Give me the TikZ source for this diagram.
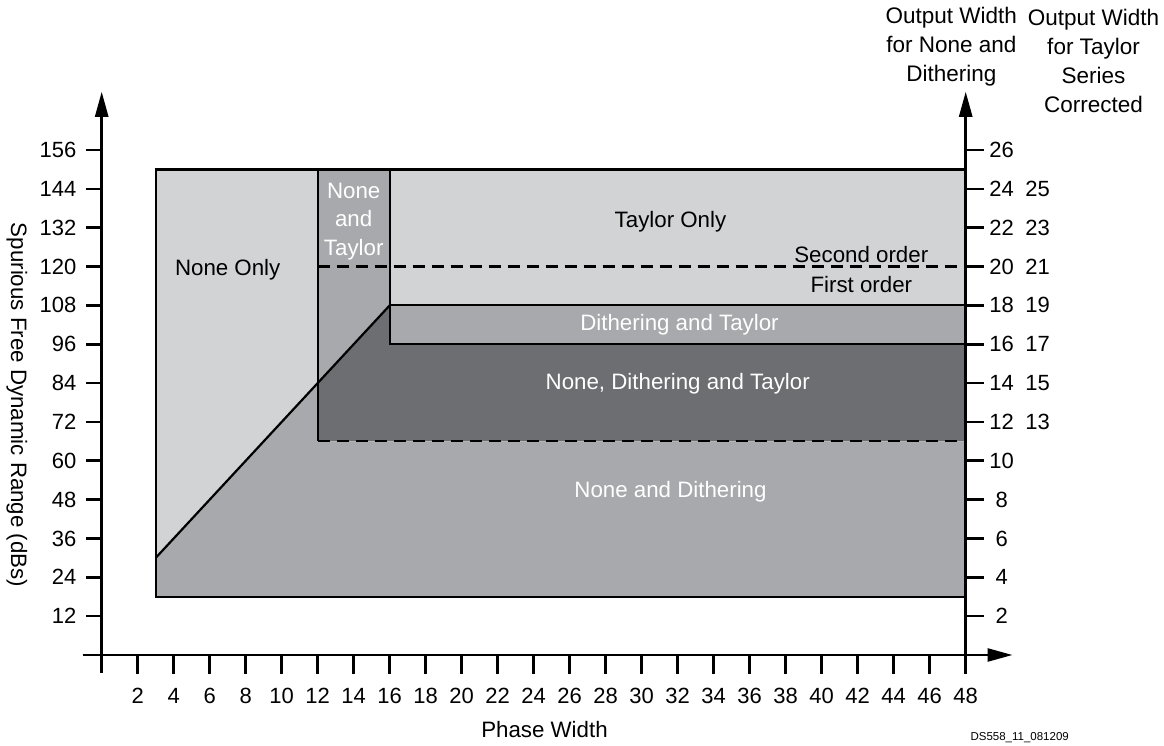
\documentclass[tikz,border=0pt]{standalone}
\usepackage{fontspec}
\setmainfont{Liberation Sans}
\usetikzlibrary{positioning,arrows.meta}
\definecolor{paleGrey}{RGB}{209,211,212}
\definecolor{midGrey}{RGB}{167,169,172}
\definecolor{darkGrey}{RGB}{109,110,113}
\tikzstyle{border}=[line width=2.2pt, line join=miter]
\tikzstyle{order}=[line width=2.2pt, dash pattern=on 12pt off 7pt]
\tikzstyle{axis}=[line width=2.6pt]
\tikzstyle{axisarrow}=[axis, -{Triangle[length=25pt 0,width=13pt 0]}]
\tikzstyle{zonetext}=[align=center, inner sep=0pt, font=\fontsize{22.3}{28.5}\selectfont]
\tikzstyle{headtext}=[align=center, inner sep=0pt, font=\fontsize{22.5}{29}\selectfont]
\tikzstyle{ticktext}=[inner sep=0pt, font=\fontsize{22}{24}\selectfont]
\tikzset{every node/.style={text=black}}

\begin{document}
\begin{tikzpicture}[x=18pt, y=3.237pt]
	\useasboundingbox (-101.7pt,-91pt) rectangle (1062.3pt,655pt);

	% shaded regions
	\fill[paleGrey] (3,30) -- (3,150) -- (12,150) -- (12,84) -- cycle;
	\fill[midGrey] (12,84) -- (16,108) -- (16,150) -- (12,150) -- cycle;
	\fill[paleGrey] (16,108) rectangle (48,150);
	\fill[midGrey] (16,96) rectangle (48,108);
	\fill[darkGrey] (12,66) -- (48,66) -- (48,96) -- (16,96) -- (16,108) -- (12,84) -- cycle;
	\fill[midGrey] (3,18) -- (48,18) -- (48,66) -- (12,66) -- (12,84) -- (3,30) -- cycle;

	% region borders
	\draw[order] (12,120) -- (48,120);
	\draw[order] (12,66) -- (48,66);
	\draw[border] (3,18) rectangle (48,150);
	\draw[border] (3,30) -- (16,108);
	\draw[border] (12,150) -- (12,66);
	\draw[border] (16,150) -- (16,96) -- (48,96);
	\draw[border] (16,108) -- (48,108);

	\node (NoneOnly) [zonetext] at (7,119) {None Only};
	\node (NoneTaylor) [zonetext, text=white] at (14,134) {None\\and\\Taylor};
	\node (TaylorOnly) [zonetext] at (31.6,133.8) {Taylor Only};
	\node (SecondOrder) [zonetext] at (42.2,123.6) {Second order};
	\node (FirstOrder) [zonetext] at (42.2,114.6) {First order};
	\node (DitherTaylor) [zonetext, text=white] at (32.1,102) {Dithering and Taylor};
	\node (NoneDitherTaylor) [zonetext, text=white] at (32,83.7) {None, Dithering and Taylor};
	\node (NoneDither) [zonetext, text=white] at (31.6,50.4) {None and Dithering};

	% axes
	\draw[axisarrow] (0,-18pt) -- (0,174);
	\draw[axisarrow] (48,-18pt) -- (48,174);
	\draw[axisarrow] (-19pt,0) -- (50.6,0);

	\foreach \v in {12,24,...,156} {
		\draw[axis] (0,\v) -- ++(-16pt,0) node (yl\v) [ticktext, anchor=east, xshift=-8pt] {\v};
		\pgfmathtruncatemacro{\w}{\v/6}
		\draw[axis] (48,\v) -- ++(18pt,0);
		\node (ra\v) [ticktext] at ([xshift=36pt]48,\v) {\w};
	}
	\foreach \v in {72,84,...,144} {
		\pgfmathtruncatemacro{\w}{\v/6+1}
		\node (rb\v) [ticktext] at ([xshift=72pt]48,\v) {\w};
	}
	\foreach \x in {2,4,...,48} {
		\draw[axis] (\x,0) -- ++(0,-19pt);
		\node (xl\x) [ticktext] at ([yshift=-41pt]\x,0) {\x};
	}

	\node (PhaseWidth) [zonetext] at ([yshift=-75pt]24.6,0) {Phase Width};
	\node (SFDR) [zonetext, rotate=-90] at ([xshift=-84.7pt]0,77.2) {Spurious Free Dynamic Range (dBs)};
	\node (OutNone) [headtext] at (47.2,187.8) {Output Width\\for None and\\Dithering};
	\node (OutTaylor) [headtext] at (55.1,183.5) {Output Width\\for Taylor\\Series\\Corrected};
	\node (FigId) [font=\fontsize{11.5}{13}\selectfont, inner sep=0pt] at ([yshift=-83pt]51,0) {DS558\_11\_081209};
\end{tikzpicture}
\end{document}
